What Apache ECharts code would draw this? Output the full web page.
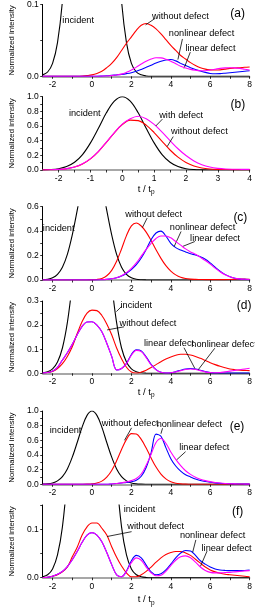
<!DOCTYPE html>
<html><head><meta charset="utf-8">
<script src="https://cdn.jsdelivr.net/npm/echarts@6/dist/echarts.min.js"></script>
<style>html,body{margin:0;padding:0;background:#fff}#c{width:255px;height:608px}</style>
</head><body><div id="c"></div><script>
// time axes (t / t_p)
const tLong = [-2.5,-2.25,-2,-1.75,-1.5,-1.25,-1,-0.75,-0.5,-0.25,0,0.25,0.5,0.75,1,1.25,1.5,1.75,2,2.25,2.5,2.75,3,3.25,3.5,3.75,4,4.25,4.5,4.75,5,5.25,5.5,5.75,6,6.25,6.5,6.75,7,7.25,7.5,7.75,8];
const tShort = [-2.5,-2.25,-2,-1.75,-1.5,-1.25,-1,-0.75,-0.5,-0.25,0,0.25,0.5,0.75,1,1.25,1.5,1.75,2,2.25,2.5,2.75,3,3.25,3.5,3.75,4];

// incident pulse
const incidentLong = [0.002,0.006,0.018,0.047,0.105,0.21,0.37,0.57,0.78,0.94,1,0.94,0.78,0.57,0.37,0.21,0.105,0.047,0.018,0.006,0.002,0.0005,0,0,0,0,0,0,0,0,0,0,0,0,0,0,0,0,0,0,0,0,0];
const incidentShort = [0.002,0.006,0.018,0.047,0.105,0.21,0.37,0.57,0.78,0.94,1,0.94,0.78,0.57,0.37,0.21,0.105,0.047,0.018,0.006,0.002,0.0005,0,0,0,0,0];

// panel (a)
const aWithout = [0,0,0,0,0,0,0,0,0.0003,0.001,0.002,0.004,0.007,0.012,0.018,0.026,0.036,0.046,0.055,0.064,0.071,0.0735,0.071,0.066,0.059,0.051,0.043,0.036,0.029,0.024,0.019,0.015,0.012,0.01,0.009,0.0087,0.009,0.01,0.011,0.0115,0.012,0.0125,0.013];
const aNonlinear = [0,0,0,0,0,0,0,0,0,0,0,0,0.0003,0.0007,0.0014,0.002,0.0027,0.0037,0.005,0.007,0.0096,0.0125,0.0155,0.0185,0.021,0.0228,0.0233,0.0215,0.018,0.015,0.012,0.0095,0.0073,0.0055,0.004,0.0035,0.0037,0.0043,0.005,0.0057,0.0064,0.0071,0.0078];
const aLinear = [0,0,0,0,0,0,0,0,0,0,0,0,0.0002,0.0005,0.001,0.0018,0.003,0.0055,0.0087,0.0128,0.017,0.021,0.024,0.0258,0.0256,0.0238,0.021,0.0175,0.014,0.0115,0.0096,0.0085,0.0078,0.0078,0.0087,0.0098,0.011,0.0117,0.012,0.0118,0.011,0.0098,0.0087];

// panel (b)
const bWithout = [0.001,0.003,0.007,0.018,0.04,0.082,0.152,0.252,0.377,0.508,0.62,0.68,0.674,0.613,0.511,0.39,0.273,0.175,0.103,0.056,0.028,0.014,0.008,0.006,0.005,0.005,0.005];
const bWith = [0.001,0.003,0.008,0.019,0.042,0.085,0.155,0.255,0.38,0.51,0.625,0.7,0.734,0.7,0.622,0.517,0.401,0.29,0.197,0.124,0.073,0.04,0.022,0.013,0.01,0.009,0.008];

// panel (c)
const cWithout = [0,0,0,0,0,0,0,0,0.0003,0.0006,0.0012,0.0043,0.013,0.035,0.079,0.153,0.254,0.363,0.443,0.466,0.442,0.392,0.323,0.247,0.177,0.117,0.073,0.042,0.022,0.012,0.007,0.005,0.004,0.003,0.003,0.003,0.003,0.003,0.004,0.006,0.008,0.007,0.006];
const cNonlinear = [0,0,0,0,0,0,0,0,0,0,0,0.0005,0.002,0.005,0.01,0.018,0.032,0.055,0.085,0.125,0.18,0.25,0.33,0.385,0.4,0.36,0.3,0.265,0.245,0.23,0.215,0.205,0.19,0.17,0.14,0.105,0.072,0.046,0.027,0.015,0.008,0.005,0.003];
const cLinear = [0,0,0,0,0,0,0,0,0,0,0,0.0005,0.002,0.005,0.01,0.019,0.035,0.06,0.095,0.14,0.195,0.25,0.3,0.34,0.36,0.36,0.345,0.315,0.285,0.255,0.23,0.21,0.185,0.16,0.13,0.097,0.067,0.043,0.026,0.015,0.009,0.006,0.004];

// panel (d)
const dWithout = [0.001,0.003,0.008,0.02,0.04,0.07,0.11,0.165,0.215,0.25,0.262,0.26,0.24,0.205,0.16,0.105,0.06,0.025,0.005,0.001,0.005,0.013,0.024,0.036,0.048,0.059,0.068,0.075,0.079,0.079,0.076,0.07,0.062,0.053,0.044,0.036,0.029,0.023,0.018,0.015,0.013,0.012,0.011];
const dNonlinear = [0.001,0.003,0.009,0.025,0.055,0.085,0.12,0.16,0.195,0.213,0.214,0.2,0.172,0.125,0.07,0.014,0.02,0.041,0.078,0.097,0.093,0.068,0.037,0.015,0.004,0.001,0.002,0.007,0.013,0.018,0.02,0.018,0.013,0.007,0.003,0.001,0.001,0.001,0.001,0.001,0.001,0.001,0.001];
const dLinear = [0.001,0.003,0.009,0.025,0.055,0.085,0.12,0.16,0.195,0.213,0.214,0.2,0.172,0.125,0.07,0.014,0.02,0.04,0.075,0.095,0.09,0.065,0.035,0.014,0.004,0.001,0.002,0.006,0.011,0.016,0.018,0.016,0.011,0.006,0.003,0.002,0.003,0.006,0.009,0.012,0.015,0.018,0.021];

// panel (e)
const eWithout = [0,0,0,0,0,0,0,0,0.0005,0.002,0.006,0.017,0.043,0.097,0.189,0.32,0.474,0.613,0.692,0.687,0.613,0.494,0.359,0.235,0.139,0.074,0.036,0.015,0.006,0.002,0.001,0,0,0,0,0,0,0,0,0,0,0,0];
const eNonlinear = [0,0,0,0,0,0,0,0,0,0,0,0,0,0,0.005,0.01,0.018,0.025,0.035,0.055,0.11,0.23,0.43,0.685,0.655,0.5,0.35,0.25,0.18,0.13,0.1,0.072,0.052,0.038,0.028,0.02,0.014,0.01,0.007,0.005,0.004,0.003,0.002];
const eLinear = [0,0,0,0,0,0,0,0,0,0,0,0,0,0,0.005,0.011,0.02,0.033,0.05,0.08,0.14,0.26,0.41,0.57,0.625,0.56,0.44,0.34,0.255,0.185,0.135,0.097,0.07,0.05,0.036,0.025,0.017,0.011,0.008,0.006,0.004,0.003,0.002];

// panel (f)
const fWithout = [0.0005,0.001,0.003,0.006,0.012,0.022,0.043,0.063,0.088,0.105,0.113,0.113,0.102,0.088,0.064,0.042,0.024,0.01,0.002,0.002,0.006,0.013,0.022,0.032,0.041,0.048,0.052,0.054,0.054,0.051,0.046,0.038,0.03,0.022,0.016,0.012,0.009,0.007,0.006,0.005,0.004,0.003,0.002];
const fNonlinear = [0.0005,0.001,0.003,0.007,0.013,0.023,0.037,0.054,0.073,0.088,0.093,0.088,0.074,0.052,0.027,0.006,0.002,0.014,0.035,0.046,0.041,0.026,0.012,0.006,0.008,0.016,0.028,0.041,0.051,0.056,0.055,0.046,0.035,0.028,0.022,0.018,0.016,0.015,0.0145,0.0145,0.0145,0.015,0.016];
const fLinear = [0.0005,0.001,0.003,0.007,0.013,0.023,0.037,0.054,0.073,0.088,0.093,0.088,0.074,0.052,0.027,0.006,0.002,0.013,0.031,0.041,0.036,0.022,0.01,0.004,0.005,0.013,0.025,0.036,0.043,0.045,0.041,0.032,0.022,0.015,0.011,0.01,0.01,0.0105,0.011,0.012,0.013,0.014,0.0145];

// tick values and labels
const xLabelsLong = [-2,0,2,4,6,8];
const xTicksLong = [-2,-1,0,1,2,3,4,5,6,7,8];
const xLabelsShort = [-2,-1,0,1,2,3,4];
const xTicksShort = [-2,-1.5,-1,-0.5,0,0.5,1,1.5,2,2.5,3,3.5,4];
const yLabelsA = [0,0.1];           const yTicksA = [0,0.05,0.1];
const yLabelsB = [0,0.2,0.4,0.6,0.8,1.0]; const yTicksB = [0,0.1,0.2,0.3,0.4,0.5,0.6,0.7,0.8,0.9,1.0];
const yLabelsC = [0,0.2,0.4,0.6];   const yTicksC = [0,0.1,0.2,0.3,0.4,0.5,0.6];
const yLabelsD = [0,0.1,0.2,0.3];   const yTicksD = [0,0.05,0.1,0.15,0.2,0.25,0.3];
const yLabelsF = [0,0.1];           const yTicksF = [0,0.05,0.1,0.15];

// annotation text [text, t, value] and arrows [t0, v0, t1, v1]
const textA = [['incident',-0.70,0.078],['without defect',4.49,0.084],['nonlinear defect',5.56,0.059],['linear defect',6.01,0.0384]];
const arrowA = [[3.22,0.081,2.72,0.0716],[4.59,0.052,4.36,0.0233],[4.99,0.0337,4.67,0.011]];
const textB = [['incident',-1.18,0.767],['with defect',1.85,0.74],['without defect',2.42,0.525]];
const arrowB = [[1.26,0.694,1.05,0.60],[1.6,0.456,1.41,0.32]];
const textC = [['incident',-1.69,0.425],['without defect',3.13,0.54],['nonlinear defect',5.61,0.43],['linear defect',6.25,0.337]];
const arrowC = [[2.8,0.507,2.56,0.43],[4.52,0.397,4.17,0.274],[5.22,0.315,4.59,0.274]];
const textD = [['incident',2.25,0.283],['without defect',2.84,0.207],['linear defect',3.91,0.124],['nonlinear defect',6.7,0.121]];
const arrowD = [[1.52,0.279,1.24,0.256],[1.63,0.193,0.77,0.18],[4.67,0.106,5.22,0.02],[6.23,0.104,5.38,0.0137]];
const textE = [['incident',-1.34,0.73],['without defect',1.94,0.83],['nonlinear defect',4.94,0.82],['linear defect',5.7,0.5]];
const arrowE = [[2.01,0.77,1.65,0.6],[3.58,0.765,3.5,0.69],[4.75,0.445,4.28,0.33]];
const textF = [['incident',2.41,0.14],['without defect',3.23,0.105],['nonlinear defect',6.12,0.087],['linear defect',6.83,0.061]];
const arrowF = [[2.01,0.095,0.77,0.085],[5.27,0.078,5.11,0.0525],[5.84,0.055,5.5,0.023]];
const tags = [['(a)',7.39,0.087],['(b)',3.63,0.89],['(c)',7.53,0.512],['(d)',7.72,0.279],['(e)',7.36,0.78],['(f)',7.39,0.136]];

const FONT = 'Liberation Sans, Arial, Helvetica, sans-serif';
const BLACK='#000000', RED='#ff0000', BLUE='#0000ff', MAG='#ff00ff';

const panels = [
  {top:3, height:73.3, xs:tLong, xmax:8, xl:xLabelsLong, xt:xTicksLong, ymax:0.1, yl:yLabelsA, yt:yTicksA,
   curves:[[incidentLong,BLACK],[aWithout,RED],[aNonlinear,BLUE],[aLinear,MAG]], text:textA, arrows:arrowA, xname:false},
  {top:96.7, height:73.3, xs:tShort, xmax:4, xl:xLabelsShort, xt:xTicksShort, ymax:1.0, yl:yLabelsB, yt:yTicksB,
   curves:[[incidentShort,BLACK],[bWithout,RED],[bWith,MAG]], text:textB, arrows:arrowB, xname:true, gap:11},
  {top:206.7, height:73.3, xs:tLong, xmax:8, xl:xLabelsLong, xt:xTicksLong, ymax:0.6, yl:yLabelsC, yt:yTicksC,
   curves:[[incidentLong,BLACK],[cWithout,RED],[cNonlinear,BLUE],[cLinear,MAG]], text:textC, arrows:arrowC, xname:false},
  {top:301, height:72.3, xs:tLong, xmax:8, xl:xLabelsLong, xt:xTicksLong, ymax:0.3, yl:yLabelsD, yt:yTicksD,
   curves:[[incidentLong,BLACK],[dWithout,RED],[dNonlinear,BLUE],[dLinear,MAG]], text:textD, arrows:arrowD, xname:true, gap:11},
  {top:411, height:73.3, xs:tLong, xmax:8, xl:xLabelsLong, xt:xTicksLong, ymax:1.0, yl:yLabelsB, yt:yTicksB,
   curves:[[incidentLong,BLACK],[eWithout,RED],[eNonlinear,BLUE],[eLinear,MAG]], text:textE, arrows:arrowE, xname:false},
  {top:505, height:72.7, xs:tLong, xmax:8, xl:xLabelsLong, xt:xTicksLong, ymax:0.15, yl:yLabelsF, yt:yTicksF,
   curves:[[incidentLong,BLACK],[fWithout,RED],[fNonlinear,BLUE],[fLinear,MAG]], text:textF, arrows:arrowF, xname:true, gap:15}
];

const grid=[], xAxis=[], yAxis=[], series=[];
panels.forEach((p, gi) => {
  grid.push({left:27, width:224, top:p.top, height:p.height});
  xAxis.push({
    type:'value', gridIndex:gi, min:-2.5, max:p.xmax,
    axisLine:{onZero:false, lineStyle:{color:'#8a8a8a', width:1.6}},
    axisTick:{show:true, inside:false, length:2.5, customValues:p.xt, lineStyle:{color:'#000', width:0.8}},
    axisLabel:{customValues:p.xl, fontSize:8.5, color:'#000', margin:4, fontFamily:FONT, formatter:v=>String(v)},
    splitLine:{show:false},
    name: p.xname ? '{a|t / t}{b|p}' : '',
    nameLocation:'middle', nameGap:p.gap || 12,
    nameTextStyle:{color:'#000', fontFamily:FONT, verticalAlign:'top',
      rich:{a:{fontSize:9.5, color:'#000', fontFamily:FONT}, b:{fontSize:6.5, color:'#000', fontFamily:FONT, padding:[7,0,0,0]}}}
  });
  yAxis.push({
    type:'value', gridIndex:gi, min:0, max:p.ymax,
    axisLine:{show:true, onZero:false, lineStyle:{color:'#000', width:1}},
    axisTick:{show:true, length:2.5, customValues:p.yt, lineStyle:{color:'#000', width:0.8}},
    axisLabel:{customValues:p.yl, fontSize:8.5, color:'#000', margin:4, fontFamily:FONT, formatter:v=>v.toFixed(1)},
    splitLine:{show:false},
    name:'Normalized intensity', nameLocation:'middle', nameGap:17,
    nameTextStyle:{fontSize:7.8, color:'#000', fontFamily:FONT}
  });
  p.curves.forEach(([ys, color], ci) => {
    const s = {
      type:'line', xAxisIndex:gi, yAxisIndex:gi,
      data: p.xs.map((x,i)=>[x, ys[i]]),
      symbol:'none', showSymbol:false, smooth:0.35, clip:true, silent:true,
      lineStyle:{color, width:1.1}, itemStyle:{color}, z:2+ci
    };
    if (ci === 0) {
      const pts = p.text.map(([txt,x,y]) => ({name:txt, coord:[x,y]}));
      const tg = tags[gi];
      pts.push({name:tg[0], coord:[tg[1],tg[2]], label:{fontSize:12}});
      s.markPoint = {symbol:'circle', symbolSize:0, silent:true, animation:false,
        label:{show:true, position:'inside', color:'#000', fontSize:9.2, fontFamily:FONT, formatter:q=>q.name},
        data:pts};
      s.markLine = {silent:true, animation:false, symbol:['none','arrow'], symbolSize:[0,5],
        lineStyle:{color:'#000', width:0.8, type:'solid'}, label:{show:false}, emphasis:{disabled:true},
        data:p.arrows.map(a => [{coord:[a[0],a[1]]},{coord:[a[2],a[3]]}])};
    }
    series.push(s);
  });
});

const chart = echarts.init(document.getElementById('c'), null, {renderer:'canvas'});
chart.setOption({animation:false, textStyle:{fontFamily:FONT}, grid, xAxis, yAxis, series});
</script></body></html>
